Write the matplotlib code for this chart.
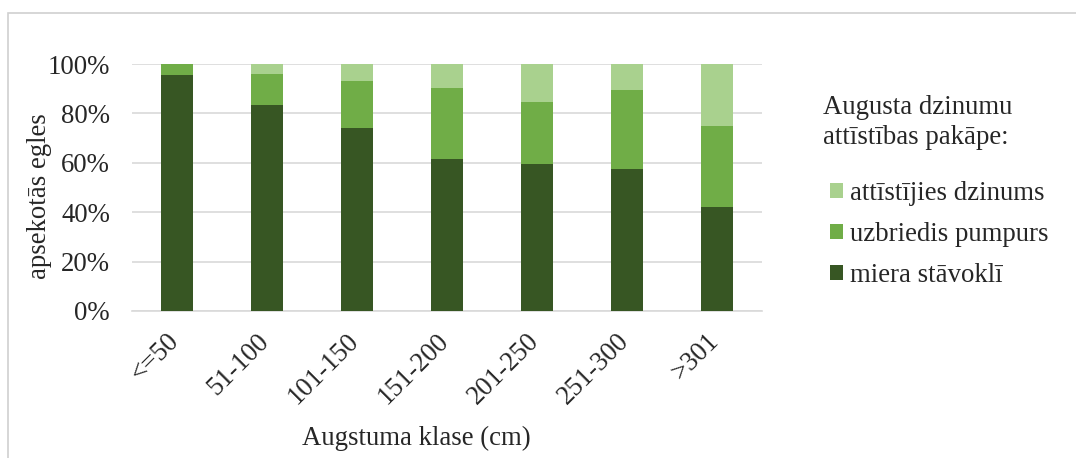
import matplotlib.pyplot as plt
import matplotlib.transforms as mtransforms
from matplotlib.patches import Rectangle

classes = ['<=50', '51-100', '101-150', '151-200', '201-250', '251-300', '>301']
miera = [95.4, 83.2, 74.0, 61.4, 59.5, 57.5, 42.0]
uzbriedis = [4.6, 12.9, 19.3, 28.8, 25.1, 32.1, 32.7]
attistijies = [0.0, 3.9, 6.7, 9.8, 15.4, 10.4, 25.3]

series_names = ['miera stāvoklī', 'uzbriedis pumpurs', 'attīstījies dzinums']
colors = ['#375623', '#70ad47', '#a9d18e']

plt.rcParams['font.family'] = ['Liberation Serif', 'DejaVu Serif']
fs = 19.3
tc = '#262626'

fig = plt.figure(figsize=(10.76, 4.58), dpi=100)
W, H = 1076, 458
ax = fig.add_axes([132 / W, (H - 311) / H, 630 / W, 247 / H])

x = range(len(classes))
bottom = [0.0] * len(classes)
bars = []
for vals, name, c in zip([miera, uzbriedis, attistijies], series_names, colors):
    fr = [v / 100 for v in vals]
    b = ax.bar(x, fr, width=0.35, bottom=bottom, color=c, label=name, zorder=3)
    bars.append(b)
    bottom = [bt + f for bt, f in zip(bottom, fr)]

ax.set_ylim(0, 1)
ax.set_xlim(-0.5, len(classes) - 0.5)
ax.set_yticks([0, 0.2, 0.4, 0.6, 0.8, 1.0])
ax.set_yticklabels(['0%', '20%', '40%', '60%', '80%', '100%'], fontsize=fs, color=tc)
ax.set_xticks(list(x))
ax.set_xticklabels(classes, rotation=45, ha='right', va='center', rotation_mode='anchor',
                   fontsize=fs, color=tc)
ax.tick_params(length=0, axis='y', pad=15.8)
ax.tick_params(length=0, axis='x', pad=19)
shift = mtransforms.ScaledTranslation(-2 / 100, 0, fig.dpi_scale_trans)
for lab in ax.get_xticklabels():
    lab.set_transform(lab.get_transform() + shift)
ax.grid(axis='y', color='#d9d9d9', linewidth=1.2, zorder=0)
for s in ax.spines.values():
    s.set_visible(False)
ax.axhline(0, color='#d9d9d9', linewidth=1.2, zorder=1, clip_on=False)

fig.text(40 / W, 1 - 196 / H, 'apsekotās egles', rotation=90, ha='center', va='center',
         fontsize=fs, color=tc)
fig.text(416 / W, 1 - 438 / H, 'Augstuma klase (cm)', ha='center', va='center',
         fontsize=fs, color=tc)

fig.text(823 / W, 1 - 108 / H, 'Augusta dzinumu', ha='left', va='center',
         fontsize=fs, color=tc)
fig.text(823 / W, 1 - 137 / H, 'attīstības pakāpe:', ha='left', va='center',
         fontsize=fs, color=tc)

handles = bars[::-1]
labels = series_names[::-1]
leg = fig.legend(handles, labels, loc='upper left', bbox_to_anchor=(830 / W, 1 - 181 / H),
                 frameon=False, fontsize=fs, handlelength=0.5, handleheight=0.5,
                 handletextpad=0.25, labelspacing=0.6, borderaxespad=0, borderpad=0)
for t in leg.get_texts():
    t.set_color(tc)

fig.patches.append(Rectangle((8 / W, -0.1), 1.2, 1 - 13 / H + 0.1, transform=fig.transFigure,
                             fill=False, edgecolor='#d0d0d0', linewidth=1.2))

fig.savefig('out.png', dpi=100)
